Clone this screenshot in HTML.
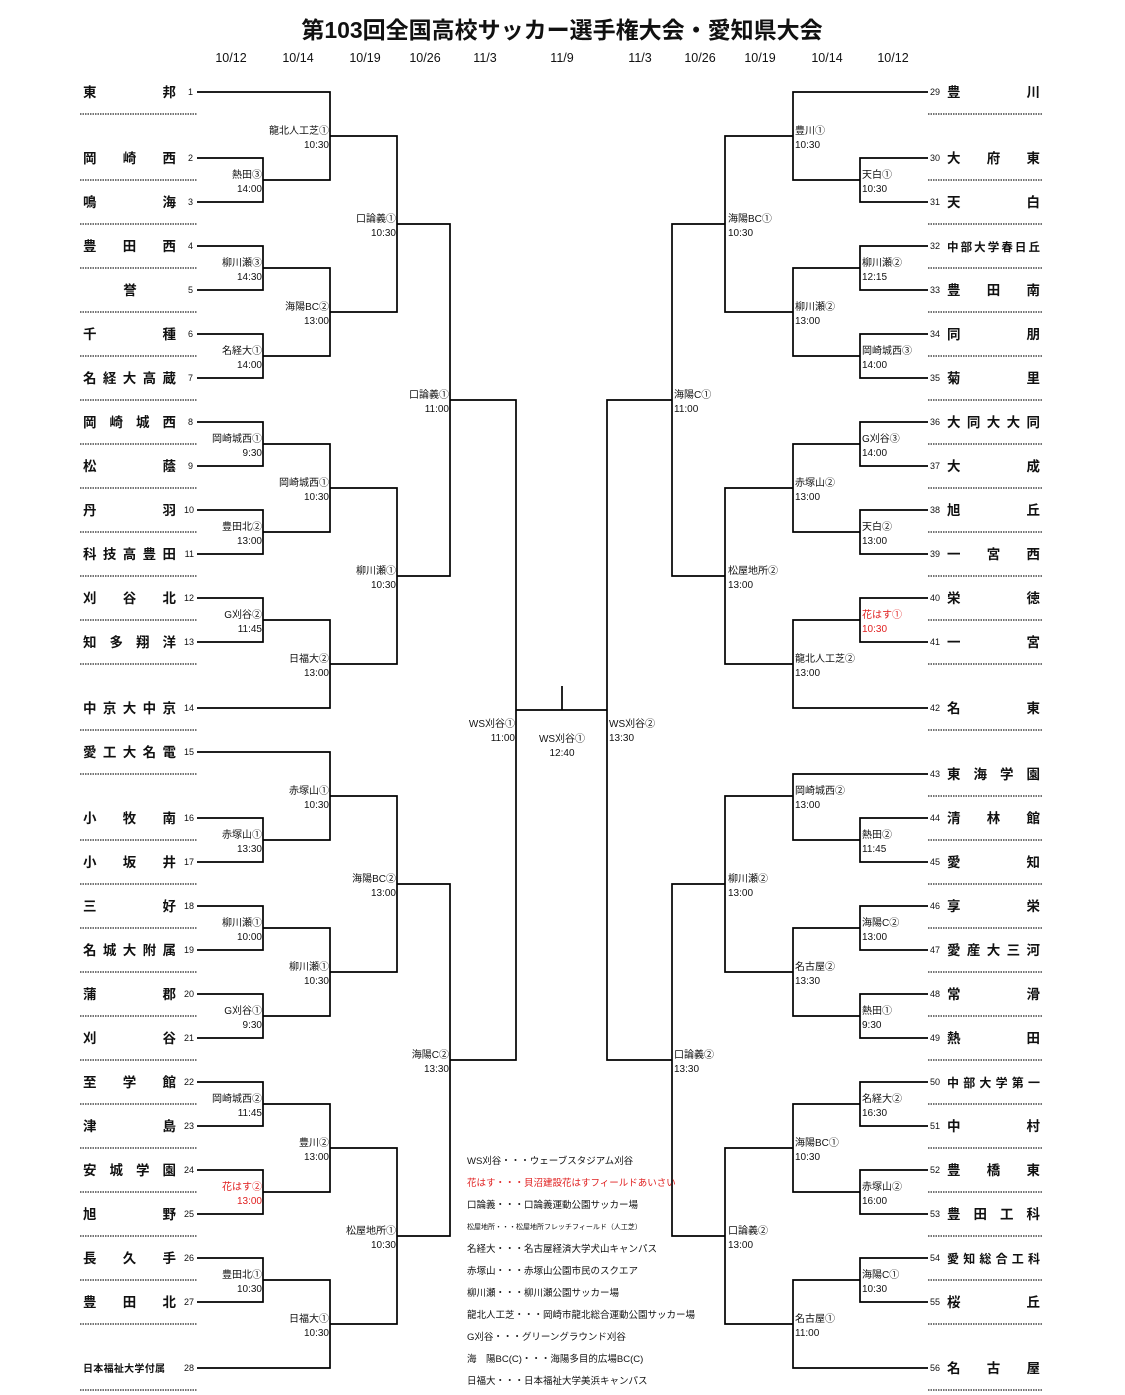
<!DOCTYPE html>
<html><head><meta charset="utf-8"><style>
html,body{margin:0;padding:0;background:#fff}
svg{display:block}
text{font-family:"Liberation Sans","Noto Sans CJK JP",sans-serif;fill:#111}
.t{font-size:13.5px;font-weight:bold}
.n{font-size:9px}
.l{font-size:10px}
.r{fill:#e02020}
.g{font-size:9.5px}
</style></head><body>
<svg width="1125" height="1395" viewBox="0 0 1125 1395" xmlns="http://www.w3.org/2000/svg">
<text x="562" y="38" text-anchor="middle" style="font-size:23px;font-weight:bold">第103回全国高校サッカー選手権大会・愛知県大会</text>
<g style="font-size:12.5px" text-anchor="middle">
<text x="231" y="62">10/12</text><text x="298" y="62">10/14</text><text x="365" y="62">10/19</text><text x="425" y="62">10/26</text><text x="485" y="62">11/3</text><text x="562" y="62">11/9</text><text x="640" y="62">11/3</text><text x="700" y="62">10/26</text><text x="760" y="62">10/19</text><text x="827" y="62">10/14</text><text x="893" y="62">10/12</text>
</g>
<g fill="none" stroke="#000" stroke-width="1.7">
<path d="M197 158H263V202H197M197 246H263V290H197M197 334H263V378H197M197 422H263V466H197M197 510H263V554H197M197 598H263V642H197M197 818H263V862H197M197 906H263V950H197M197 994H263V1038H197M197 1082H263V1126H197M197 1170H263V1214H197M197 1258H263V1302H197"/>
<path d="M197 92H330V180H263M263 268H330V356H263M263 444H330V532H263M263 620H330V708H197M197 752H330V840H263M263 928H330V1016H263M263 1104H330V1192H263M263 1280H330V1368H197"/>
<path d="M330 136H397V312H330M330 488H397V664H330M330 796H397V972H330M330 1148H397V1324H330"/>
<path d="M397 224H450V576H397M397 884H450V1236H397"/>
<path d="M450 400H516V1060H450M516 710H607M562 686V710"/>
<path d="M928 158H860V202H928M928 246H860V290H928M928 334H860V378H928M928 422H860V466H928M928 510H860V554H928M928 598H860V642H928M928 818H860V862H928M928 906H860V950H928M928 994H860V1038H928M928 1082H860V1126H928M928 1170H860V1214H928M928 1258H860V1302H928"/>
<path d="M928 92H793V180H860M860 268H793V356H860M860 444H793V532H860M860 620H793V708H928M928 774H793V840H860M860 928H793V1016H860M860 1104H793V1192H860M860 1280H793V1368H928"/>
<path d="M793 136H725V312H793M793 488H725V664H793M793 796H725V972H793M793 1148H725V1324H793"/>
<path d="M725 224H672V576H725M725 884H672V1236H725"/>
<path d="M672 400H607V1060H672"/>
</g>
<g stroke="#222" stroke-width="1.2" stroke-dasharray="1.5,1">
<path d="M80 114H197M80 180H197M80 224H197M80 268H197M80 312H197M80 356H197M80 400H197M80 444H197M80 488H197M80 532H197M80 576H197M80 620H197M80 664H197M80 730H197M80 774H197M80 840H197M80 884H197M80 928H197M80 972H197M80 1016H197M80 1060H197M80 1104H197M80 1148H197M80 1192H197M80 1236H197M80 1280H197M80 1324H197M80 1390H197"/>
<path d="M928 114H1043M928 180H1043M928 224H1043M928 268H1043M928 312H1043M928 356H1043M928 400H1043M928 444H1043M928 488H1043M928 532H1043M928 576H1043M928 620H1043M928 664H1043M928 730H1043M928 796H1043M928 840H1043M928 884H1043M928 928H1043M928 972H1043M928 1016H1043M928 1060H1043M928 1104H1043M928 1148H1043M928 1192H1043M928 1236H1043M928 1280H1043M928 1324H1043M928 1390H1043"/>
</g>
<!-- left teams -->
<g class="t">
<text x="83" y="97" textLength="93" lengthAdjust="spacing">東邦</text>
<text x="83" y="163" textLength="93" lengthAdjust="spacing">岡崎西</text>
<text x="83" y="207" textLength="93" lengthAdjust="spacing">鳴海</text>
<text x="83" y="251" textLength="93" lengthAdjust="spacing">豊田西</text>
<text x="130" y="295" text-anchor="middle">誉</text>
<text x="83" y="339" textLength="93" lengthAdjust="spacing">千種</text>
<text x="83" y="383" textLength="93" lengthAdjust="spacing">名経大高蔵</text>
<text x="83" y="427" textLength="93" lengthAdjust="spacing">岡崎城西</text>
<text x="83" y="471" textLength="93" lengthAdjust="spacing">松蔭</text>
<text x="83" y="515" textLength="93" lengthAdjust="spacing">丹羽</text>
<text x="83" y="559" textLength="93" lengthAdjust="spacing">科技高豊田</text>
<text x="83" y="603" textLength="93" lengthAdjust="spacing">刈谷北</text>
<text x="83" y="647" textLength="93" lengthAdjust="spacing">知多翔洋</text>
<text x="83" y="713" textLength="93" lengthAdjust="spacing">中京大中京</text>
<text x="83" y="757" textLength="93" lengthAdjust="spacing">愛工大名電</text>
<text x="83" y="823" textLength="93" lengthAdjust="spacing">小牧南</text>
<text x="83" y="867" textLength="93" lengthAdjust="spacing">小坂井</text>
<text x="83" y="911" textLength="93" lengthAdjust="spacing">三好</text>
<text x="83" y="955" textLength="93" lengthAdjust="spacing">名城大附属</text>
<text x="83" y="999" textLength="93" lengthAdjust="spacing">蒲郡</text>
<text x="83" y="1043" textLength="93" lengthAdjust="spacing">刈谷</text>
<text x="83" y="1087" textLength="93" lengthAdjust="spacing">至学館</text>
<text x="83" y="1131" textLength="93" lengthAdjust="spacing">津島</text>
<text x="83" y="1175" textLength="93" lengthAdjust="spacing">安城学園</text>
<text x="83" y="1219" textLength="93" lengthAdjust="spacing">旭野</text>
<text x="83" y="1263" textLength="93" lengthAdjust="spacing">長久手</text>
<text x="83" y="1307" textLength="93" lengthAdjust="spacing">豊田北</text>
<text x="83" y="1372" style="font-size:10px" textLength="82" lengthAdjust="spacing">日本福祉大学付属</text>
</g>
<g class="n" text-anchor="end">
<text x="193" y="95">1</text><text x="193" y="161">2</text><text x="193" y="205">3</text><text x="193" y="249">4</text><text x="193" y="293">5</text><text x="193" y="337">6</text><text x="193" y="381">7</text><text x="193" y="425">8</text><text x="193" y="469">9</text><text x="194" y="513">10</text><text x="194" y="557">11</text><text x="194" y="601">12</text><text x="194" y="645">13</text><text x="194" y="711">14</text><text x="194" y="755">15</text><text x="194" y="821">16</text><text x="194" y="865">17</text><text x="194" y="909">18</text><text x="194" y="953">19</text><text x="194" y="997">20</text><text x="194" y="1041">21</text><text x="194" y="1085">22</text><text x="194" y="1129">23</text><text x="194" y="1173">24</text><text x="194" y="1217">25</text><text x="194" y="1261">26</text><text x="194" y="1305">27</text><text x="194" y="1371">28</text>
</g>
<!-- right teams -->
<g class="t">
<text x="947" y="97" textLength="93" lengthAdjust="spacing">豊川</text>
<text x="947" y="163" textLength="93" lengthAdjust="spacing">大府東</text>
<text x="947" y="207" textLength="93" lengthAdjust="spacing">天白</text>
<text x="947" y="251" style="font-size:11.5px" textLength="93" lengthAdjust="spacing">中部大学春日丘</text>
<text x="947" y="295" textLength="93" lengthAdjust="spacing">豊田南</text>
<text x="947" y="339" textLength="93" lengthAdjust="spacing">同朋</text>
<text x="947" y="383" textLength="93" lengthAdjust="spacing">菊里</text>
<text x="947" y="427" textLength="93" lengthAdjust="spacing">大同大大同</text>
<text x="947" y="471" textLength="93" lengthAdjust="spacing">大成</text>
<text x="947" y="515" textLength="93" lengthAdjust="spacing">旭丘</text>
<text x="947" y="559" textLength="93" lengthAdjust="spacing">一宮西</text>
<text x="947" y="603" textLength="93" lengthAdjust="spacing">栄徳</text>
<text x="947" y="647" textLength="93" lengthAdjust="spacing">一宮</text>
<text x="947" y="713" textLength="93" lengthAdjust="spacing">名東</text>
<text x="947" y="779" textLength="93" lengthAdjust="spacing">東海学園</text>
<text x="947" y="823" textLength="93" lengthAdjust="spacing">清林館</text>
<text x="947" y="867" textLength="93" lengthAdjust="spacing">愛知</text>
<text x="947" y="911" textLength="93" lengthAdjust="spacing">享栄</text>
<text x="947" y="955" textLength="93" lengthAdjust="spacing">愛産大三河</text>
<text x="947" y="999" textLength="93" lengthAdjust="spacing">常滑</text>
<text x="947" y="1043" textLength="93" lengthAdjust="spacing">熱田</text>
<text x="947" y="1087" style="font-size:12px" textLength="93" lengthAdjust="spacing">中部大学第一</text>
<text x="947" y="1131" textLength="93" lengthAdjust="spacing">中村</text>
<text x="947" y="1175" textLength="93" lengthAdjust="spacing">豊橋東</text>
<text x="947" y="1219" textLength="93" lengthAdjust="spacing">豊田工科</text>
<text x="947" y="1263" style="font-size:12px" textLength="93" lengthAdjust="spacing">愛知総合工科</text>
<text x="947" y="1307" textLength="93" lengthAdjust="spacing">桜丘</text>
<text x="947" y="1373" textLength="93" lengthAdjust="spacing">名古屋</text>
</g>
<g class="n">
<text x="930" y="95">29</text><text x="930" y="161">30</text><text x="930" y="205">31</text><text x="930" y="249">32</text><text x="930" y="293">33</text><text x="930" y="337">34</text><text x="930" y="381">35</text><text x="930" y="425">36</text><text x="930" y="469">37</text><text x="930" y="513">38</text><text x="930" y="557">39</text><text x="930" y="601">40</text><text x="930" y="645">41</text><text x="930" y="711">42</text><text x="930" y="777">43</text><text x="930" y="821">44</text><text x="930" y="865">45</text><text x="930" y="909">46</text><text x="930" y="953">47</text><text x="930" y="997">48</text><text x="930" y="1041">49</text><text x="930" y="1085">50</text><text x="930" y="1129">51</text><text x="930" y="1173">52</text><text x="930" y="1217">53</text><text x="930" y="1261">54</text><text x="930" y="1305">55</text><text x="930" y="1371">56</text>
</g>
<!-- left labels -->
<g class="l" text-anchor="end">
<text x="262" y="178">熱田③</text><text x="262" y="192">14:00</text>
<text x="262" y="266">柳川瀬③</text><text x="262" y="280">14:30</text>
<text x="262" y="354">名経大①</text><text x="262" y="368">14:00</text>
<text x="262" y="442">岡崎城西①</text><text x="262" y="456">9:30</text>
<text x="262" y="530">豊田北②</text><text x="262" y="544">13:00</text>
<text x="262" y="618">G刈谷②</text><text x="262" y="632">11:45</text>
<text x="262" y="838">赤塚山①</text><text x="262" y="852">13:30</text>
<text x="262" y="926">柳川瀬①</text><text x="262" y="940">10:00</text>
<text x="262" y="1014">G刈谷①</text><text x="262" y="1028">9:30</text>
<text x="262" y="1102">岡崎城西②</text><text x="262" y="1116">11:45</text>
<text x="262" y="1190" class="r">花はす②</text><text x="262" y="1204" class="r">13:00</text>
<text x="262" y="1278">豊田北①</text><text x="262" y="1292">10:30</text>
<text x="329" y="134">龍北人工芝①</text><text x="329" y="148">10:30</text>
<text x="329" y="310">海陽BC②</text><text x="329" y="324">13:00</text>
<text x="329" y="486">岡崎城西①</text><text x="329" y="500">10:30</text>
<text x="329" y="662">日福大②</text><text x="329" y="676">13:00</text>
<text x="329" y="794">赤塚山①</text><text x="329" y="808">10:30</text>
<text x="329" y="970">柳川瀬①</text><text x="329" y="984">10:30</text>
<text x="329" y="1146">豊川②</text><text x="329" y="1160">13:00</text>
<text x="329" y="1322">日福大①</text><text x="329" y="1336">10:30</text>
<text x="396" y="222">口論義①</text><text x="396" y="236">10:30</text>
<text x="396" y="574">柳川瀬①</text><text x="396" y="588">10:30</text>
<text x="396" y="882">海陽BC②</text><text x="396" y="896">13:00</text>
<text x="396" y="1234">松屋地所①</text><text x="396" y="1248">10:30</text>
<text x="449" y="398">口論義①</text><text x="449" y="412">11:00</text>
<text x="449" y="1058">海陽C②</text><text x="449" y="1072">13:30</text>
<text x="515" y="727">WS刈谷①</text><text x="515" y="741">11:00</text>
</g>
<g class="l" text-anchor="middle">
<text x="562" y="742">WS刈谷①</text><text x="562" y="756">12:40</text>
</g>
<!-- right labels -->
<g class="l">
<text x="609" y="727">WS刈谷②</text><text x="609" y="741">13:30</text>
<text x="674" y="398">海陽C①</text><text x="674" y="412">11:00</text>
<text x="674" y="1058">口論義②</text><text x="674" y="1072">13:30</text>
<text x="728" y="222">海陽BC①</text><text x="728" y="236">10:30</text>
<text x="728" y="574">松屋地所②</text><text x="728" y="588">13:00</text>
<text x="728" y="882">柳川瀬②</text><text x="728" y="896">13:00</text>
<text x="728" y="1234">口論義②</text><text x="728" y="1248">13:00</text>
<text x="795" y="134">豊川①</text><text x="795" y="148">10:30</text>
<text x="795" y="310">柳川瀬②</text><text x="795" y="324">13:00</text>
<text x="795" y="486">赤塚山②</text><text x="795" y="500">13:00</text>
<text x="795" y="662">龍北人工芝②</text><text x="795" y="676">13:00</text>
<text x="795" y="794">岡崎城西②</text><text x="795" y="808">13:00</text>
<text x="795" y="970">名古屋②</text><text x="795" y="984">13:30</text>
<text x="795" y="1146">海陽BC①</text><text x="795" y="1160">10:30</text>
<text x="795" y="1322">名古屋①</text><text x="795" y="1336">11:00</text>
<text x="862" y="178">天白①</text><text x="862" y="192">10:30</text>
<text x="862" y="266">柳川瀬②</text><text x="862" y="280">12:15</text>
<text x="862" y="354">岡崎城西③</text><text x="862" y="368">14:00</text>
<text x="862" y="442">G刈谷③</text><text x="862" y="456">14:00</text>
<text x="862" y="530">天白②</text><text x="862" y="544">13:00</text>
<text x="862" y="618" class="r">花はす①</text><text x="862" y="632" class="r">10:30</text>
<text x="862" y="838">熱田②</text><text x="862" y="852">11:45</text>
<text x="862" y="926">海陽C②</text><text x="862" y="940">13:00</text>
<text x="862" y="1014">熱田①</text><text x="862" y="1028">9:30</text>
<text x="862" y="1102">名経大②</text><text x="862" y="1116">16:30</text>
<text x="862" y="1190">赤塚山②</text><text x="862" y="1204">16:00</text>
<text x="862" y="1278">海陽C①</text><text x="862" y="1292">10:30</text>
</g>
<!-- legend -->
<g class="g">
<text x="467" y="1164">WS刈谷・・・ウェーブスタジアム刈谷</text>
<text x="467" y="1186" class="r">花はす・・・貝沼建設花はすフィールドあいさい</text>
<text x="467" y="1208">口論義・・・口論義運動公園サッカー場</text>
<text x="467" y="1229" style="font-size:7px">松屋地所・・・松屋地所フレッチフィールド（人工芝）</text>
<text x="467" y="1252">名経大・・・名古屋経済大学犬山キャンパス</text>
<text x="467" y="1274">赤塚山・・・赤塚山公園市民のスクエア</text>
<text x="467" y="1296">柳川瀬・・・柳川瀬公園サッカー場</text>
<text x="467" y="1318">龍北人工芝・・・岡崎市龍北総合運動公園サッカー場</text>
<text x="467" y="1340">G刈谷・・・グリーングラウンド刈谷</text>
<text x="467" y="1362">海　陽BC(C)・・・海陽多目的広場BC(C)</text>
<text x="467" y="1384">日福大・・・日本福祉大学美浜キャンパス</text>
</g>
</svg>
</body></html>
